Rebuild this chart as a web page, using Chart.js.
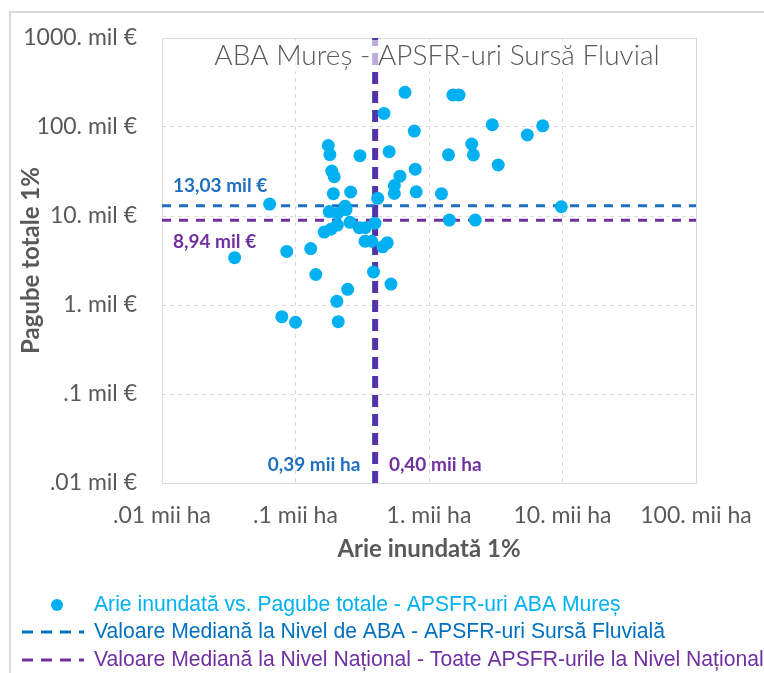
<!DOCTYPE html>
<html>
<head>
<meta charset="utf-8">
<script src="https://cdn.jsdelivr.net/npm/chart.js@4.4.0/dist/chart.umd.min.js"></script>
<style>
  html, body { margin: 0; padding: 0; background: #fff; }
  #wrap { width: 764px; height: 673px; }
</style>
</head>
<body>
<div id="wrap"><canvas id="chart" width="764" height="673"></canvas></div>
<script>
// Arie inundata 1% (mii ha) and Pagube totale 1% (mil EUR), one entry per APSFR
const areaHa = [0.035, 0.064, 0.079, 0.086, 0.10, 0.13, 0.142, 0.164, 0.176, 0.179,
    0.181, 0.184, 0.187, 0.192, 0.195, 0.204, 0.206, 0.206, 0.209, 0.235,
    0.239, 0.246, 0.256, 0.259, 0.30, 0.304, 0.333, 0.332, 0.372, 0.384,
    0.394, 0.413, 0.45, 0.46, 0.487, 0.503, 0.519, 0.55, 0.55, 0.606,
    0.661, 0.776, 0.789, 0.802, 1.24, 1.40, 1.42, 1.51, 1.68, 2.09,
    2.15, 2.22, 2.98, 3.30, 5.45, 7.11, 9.8];
const damages = [3.4, 13.6, 0.74, 4.0, 0.64, 4.3, 2.2, 6.6, 62, 11.2,
    49, 7.1, 32, 17.8, 27.6, 1.1, 10.7, 7.9, 0.65, 12.9,
    11.8, 1.5, 8.5, 18.6, 7.4, 47.6, 7.4, 5.2, 5.2, 2.35,
    8.3, 15.8, 4.5, 142, 5.0, 52.8, 1.72, 22.0, 17.9, 28.0,
    245, 90, 33.6, 18.7, 17.8, 48.7, 9.0, 229, 229, 64.4,
    48.5, 9.0, 106, 37.4, 81.3, 103, 12.7];

const medianAbaDamage = 13.03;   // mil EUR
const medianAbaArea = 0.39;      // mii ha
const medianNatDamage = 8.94;
const medianNatArea = 0.40;

const xTicks = [0.01, 0.1, 1, 10, 100];
const xTickLabels = ['.01 mii ha', '.1 mii ha', '1. mii ha', '10. mii ha', '100. mii ha'];
const yTicks = [0.01, 0.1, 1, 10, 100, 1000];
const yTickLabels = ['.01 mil €', '.1 mil €', '1. mil €', '10. mil €', '100. mil €', '1000. mil €'];

const legendLabels = [
    'Arie inundată vs. Pagube totale - APSFR-uri ABA Mureș',
    'Valoare Mediană la Nivel de ABA - APSFR-uri Sursă Fluvială',
    'Valoare Mediană la Nivel Național - Toate APSFR-urile la Nivel Național'
];
const chartTitle = 'ABA Mureș - APSFR-uri Sursă Fluvial';

const cyan = '#00B0F0';
const blue = '#1F6FBF';
const purple = '#7030A0';
const grey = '#595959';

const points = areaHa.map((a, i) => ({ x: a, y: damages[i] }));

const xMin = xTicks[0], xMax = xTicks[xTicks.length - 1];
const yMin = yTicks[0], yMax = yTicks[yTicks.length - 1];

// frame, plot border, title, value labels and legend
const extras = {
    id: 'extras',
    beforeDatasetsDraw(chart) {
        const ctx = chart.ctx;
        const a = chart.chartArea;
        ctx.save();
        ctx.strokeStyle = '#D9D9D9';
        ctx.lineWidth = 2;
        ctx.strokeRect(10, 12, 760, 700);
        ctx.lineWidth = 1;
        ctx.strokeRect(a.left + 0.5, a.top + 0.5, a.right - a.left, a.bottom - a.top);
        ctx.restore();
    },
    afterDatasetsDraw(chart) {
        const ctx = chart.ctx;
        const a = chart.chartArea;
        const xs = chart.scales.x, ys = chart.scales.y;
        ctx.save();

        // title, on a soft white box
        ctx.font = '300 28px Lato';
        ctx.textAlign = 'center';
        ctx.textBaseline = 'middle';
        const cx = (a.left + a.right) / 2 + 8;
        const tw = ctx.measureText(chartTitle).width;
        ctx.fillStyle = 'rgba(255,255,255,0.6)';
        ctx.fillRect(cx - tw / 2, a.top + 2, tw, 32);
        ctx.fillStyle = grey;
        ctx.fillText(chartTitle, cx, a.top + 18);

        // median value labels
        ctx.font = 'bold 19px Lato';
        ctx.textAlign = 'left';
        ctx.fillStyle = blue;
        ctx.fillText('13,03 mil €', a.left + 11, ys.getPixelForValue(medianAbaDamage) - 20);
        ctx.fillStyle = purple;
        ctx.fillText('8,94 mil €', a.left + 11, ys.getPixelForValue(medianNatDamage) + 22);
        ctx.textAlign = 'right';
        ctx.fillStyle = blue;
        ctx.fillText('0,39 mii ha', xs.getPixelForValue(medianAbaArea) - 14, a.bottom - 18);
        ctx.textAlign = 'left';
        ctx.fillStyle = purple;
        ctx.fillText('0,40 mii ha', xs.getPixelForValue(medianNatArea) + 13, a.bottom - 18);

        // legend (condensed text like the original)
        const colors = [cyan, '#0070C0', purple];
        const rowY = [605, 632, 660];
        for (let i = 0; i < legendLabels.length; i++) {
            const y = rowY[i];
            if (i === 0) {
                ctx.fillStyle = cyan;
                ctx.beginPath();
                ctx.arc(57, y, 6, 0, Math.PI * 2);
                ctx.fill();
            } else {
                ctx.strokeStyle = colors[i];
                ctx.lineWidth = 3;
                ctx.setLineDash([11, 8]);
                ctx.beginPath();
                ctx.moveTo(22, y);
                ctx.lineTo(84, y);
                ctx.stroke();
                ctx.setLineDash([]);
            }
            ctx.save();
            ctx.translate(94, y);
            ctx.scale(0.94, 1);
            ctx.font = '22.5px "Liberation Sans", Arial';
            ctx.textAlign = 'left';
            ctx.textBaseline = 'middle';
            ctx.fillStyle = colors[i];
            ctx.fillText(legendLabels[i], 0, 0);
            ctx.restore();
        }
        ctx.restore();
    }
};

new Chart(document.getElementById('chart').getContext('2d'), {
    type: 'scatter',
    data: {
        datasets: [
            {
                label: legendLabels[0],
                data: points,
                backgroundColor: cyan,
                borderWidth: 0,
                pointRadius: 6.5
            },
            {
                label: legendLabels[2],
                data: [{ x: xMin, y: medianNatDamage }, { x: xMax, y: medianNatDamage }],
                showLine: true, pointRadius: 0, borderColor: purple, borderWidth: 3, borderDash: [9, 8]
            },
            {
                label: legendLabels[2],
                data: [{ x: medianNatArea, y: yMin }, { x: medianNatArea, y: yMax }],
                showLine: true, pointRadius: 0, borderColor: '#5A2FA8', borderWidth: 4.5, borderDash: [12, 7]
            },
            {
                label: legendLabels[1],
                data: [{ x: xMin, y: medianAbaDamage }, { x: xMax, y: medianAbaDamage }],
                showLine: true, pointRadius: 0, borderColor: blue, borderWidth: 3, borderDash: [9, 8]
            },
            {
                label: legendLabels[1],
                data: [{ x: medianAbaArea, y: yMin }, { x: medianAbaArea, y: yMax }],
                showLine: true, pointRadius: 0, borderColor: '#2F3FA8', borderWidth: 4.5, borderDash: [12, 7]
            }
        ]
    },
    options: {
        responsive: false,
        animation: false,
        layout: { padding: { left: 0, top: 38, right: 68, bottom: 100 } },
        plugins: {
            legend: { display: false },
            tooltip: { enabled: false }
        },
        scales: {
            x: {
                type: 'logarithmic',
                min: xMin,
                max: xMax,
                afterBuildTicks: s => { s.ticks = xTicks.map(v => ({ value: v })); },
                afterFit: s => { s.height = 90; s.paddingLeft = 0; s.paddingRight = 0; },
                ticks: {
                    autoSkip: false,
                    maxRotation: 0,
                    padding: 19,
                    color: grey,
                    font: { family: 'Lato', size: 23 },
                    callback: (v, i) => xTickLabels[i]
                },
                grid: { color: '#D9D9D9', drawTicks: false },
                border: { display: false, dash: [4, 4] },
                title: {
                    display: true,
                    text: 'Arie inundată 1%',
                    color: grey,
                    font: { family: 'Lato', size: 24, weight: 'bold' },
                    padding: { top: 0, bottom: 9 }
                }
            },
            y: {
                type: 'logarithmic',
                min: yMin,
                max: yMax,
                afterBuildTicks: s => { s.ticks = yTicks.map(v => ({ value: v })); },
                afterFit: s => { s.width = 162; s.paddingTop = 0; s.paddingBottom = 0; },
                ticks: {
                    autoSkip: false,
                    padding: 25,
                    color: grey,
                    font: { family: 'Lato', size: 23 },
                    callback: (v, i) => yTickLabels[i]
                },
                grid: { color: '#D9D9D9', drawTicks: false },
                border: { display: false, dash: [4, 4] },
                title: {
                    display: true,
                    text: 'Pagube totale 1%',
                    color: grey,
                    font: { family: 'Lato', size: 24, weight: 'bold' },
                    padding: { top: 17, bottom: 0 }
                }
            }
        }
    },
    plugins: [extras]
});
</script>
</body>
</html>
